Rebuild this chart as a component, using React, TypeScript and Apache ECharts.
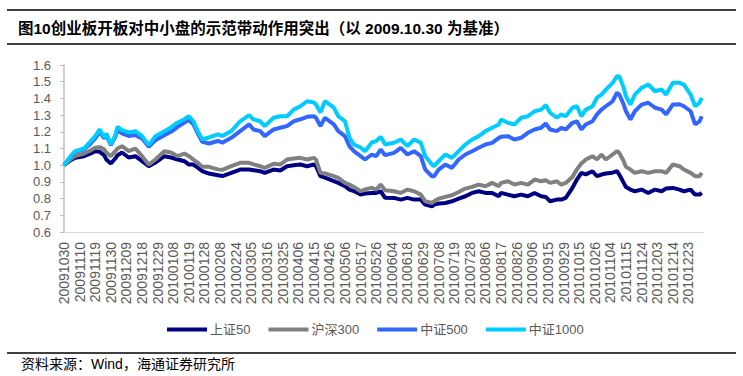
import React, { useEffect, useRef } from "react";
import * as echarts from "echarts";

const xTickLabels = [
  "20091030", "20091110", "20091119", "20091130", "20091209", "20091218", "20091229",
  "20100108", "20100119", "20100128", "20100208", "20100224", "20100305", "20100316",
  "20100325", "20100406", "20100415", "20100426", "20100506", "20100517", "20100526",
  "20100604", "20100618", "20100629", "20100708", "20100719", "20100728", "20100806",
  "20100817", "20100826", "20100906", "20100915", "20100929", "20101015", "20101026",
  "20101104", "20101115", "20101124", "20101203", "20101214", "20101223",
];

// trading-day index of each sampled point (0 = 20091030, 286 = 20101231)
const sampleIdx = [
  0, 3, 5, 9, 12, 14, 16, 18, 19, 21, 23, 24, 26, 29, 32, 35, 38, 41, 45, 48, 51, 54, 56, 58, 60,
  62, 65, 69, 71, 75, 79, 83, 85, 88, 90, 94, 97, 100, 103, 106, 109, 112, 113, 115, 117, 121, 123,
  126, 128, 130, 133, 135, 138, 140, 142, 144, 148, 151, 154, 157, 160, 162, 165, 166, 168, 171,
  174, 177, 180, 183, 186, 189, 192, 195, 196, 199, 202, 205, 208, 211, 214, 216, 218, 221, 223,
  225, 228, 230, 232, 234, 237, 239, 241, 243, 246, 248, 249, 251, 252, 254, 256, 259, 262, 265,
  268, 270, 273, 276, 278, 281, 283, 285, 286,
];

const sz50 = [
  1.0, 1.03, 1.045, 1.054, 1.07, 1.084, 1.08, 1.06, 1.034, 1.01, 1.04, 1.06, 1.076, 1.046, 1.054,
  1.024, 0.994, 1.016, 1.054, 1.046, 1.034, 1.024, 1.004, 1.004, 0.985, 0.965, 0.95, 0.94, 0.935,
  0.954, 0.974, 0.974, 0.97, 0.964, 0.954, 0.974, 0.968, 0.994, 1.0, 1.004, 0.994, 1.004, 0.994,
  0.934, 0.925, 0.905, 0.894, 0.874, 0.854, 0.845, 0.824, 0.83, 0.834, 0.834, 0.844, 0.805, 0.804,
  0.794, 0.804, 0.794, 0.794, 0.764, 0.754, 0.764, 0.77, 0.774, 0.784, 0.8, 0.814, 0.834, 0.844,
  0.834, 0.834, 0.814, 0.834, 0.824, 0.814, 0.824, 0.814, 0.834, 0.814, 0.81, 0.784, 0.794, 0.794,
  0.804, 0.864, 0.914, 0.954, 0.945, 0.964, 0.934, 0.944, 0.95, 0.955, 0.964, 0.944, 0.894, 0.87,
  0.854, 0.844, 0.854, 0.834, 0.854, 0.844, 0.86, 0.864, 0.854, 0.844, 0.854, 0.824, 0.824, 0.834,
];

const hs300 = [
  1.0, 1.036, 1.055, 1.07, 1.09, 1.105, 1.108, 1.095, 1.076, 1.054, 1.084, 1.1, 1.114, 1.084, 1.1,
  1.054, 1.004, 1.034, 1.084, 1.076, 1.054, 1.07, 1.054, 1.034, 1.015, 0.99, 0.99, 0.975, 0.972,
  0.994, 1.014, 1.014, 1.005, 0.994, 0.984, 1.008, 1.004, 1.034, 1.04, 1.044, 1.034, 1.044, 1.034,
  0.954, 0.95, 0.935, 0.924, 0.894, 0.884, 0.87, 0.844, 0.855, 0.864, 0.854, 0.884, 0.85, 0.844,
  0.834, 0.854, 0.844, 0.824, 0.784, 0.774, 0.784, 0.8, 0.81, 0.82, 0.84, 0.86, 0.87, 0.884, 0.874,
  0.894, 0.874, 0.894, 0.904, 0.884, 0.894, 0.884, 0.914, 0.904, 0.91, 0.894, 0.904, 0.884, 0.894,
  0.93, 0.975, 1.01, 1.034, 1.054, 1.034, 1.064, 1.034, 1.064, 1.084, 1.074, 1.024, 0.99, 0.974,
  0.954, 0.964, 0.954, 0.964, 0.964, 0.954, 1.004, 0.994, 0.974, 0.954, 0.934, 0.934, 0.954,
];

const zz500 = [
  1.0, 1.05, 1.08, 1.095, 1.13, 1.16, 1.2, 1.16, 1.18, 1.12, 1.17, 1.21, 1.19, 1.175, 1.18, 1.16,
  1.11, 1.15, 1.18, 1.2, 1.23, 1.255, 1.27, 1.245, 1.19, 1.14, 1.13, 1.145, 1.135, 1.164, 1.204,
  1.244, 1.214, 1.204, 1.174, 1.214, 1.224, 1.234, 1.263, 1.275, 1.29, 1.293, 1.284, 1.234, 1.284,
  1.244, 1.204, 1.174, 1.114, 1.084, 1.054, 1.034, 1.064, 1.054, 1.094, 1.06, 1.074, 1.104, 1.064,
  1.084, 1.054, 0.974, 0.934, 0.934, 0.974, 1.004, 0.984, 1.034, 1.064, 1.084, 1.104, 1.124, 1.134,
  1.164, 1.17, 1.174, 1.154, 1.164, 1.194, 1.214, 1.224, 1.25, 1.214, 1.204, 1.224, 1.214, 1.254,
  1.263, 1.214, 1.244, 1.263, 1.304, 1.333, 1.353, 1.383, 1.434, 1.423, 1.363, 1.323, 1.274, 1.323,
  1.363, 1.374, 1.344, 1.333, 1.304, 1.363, 1.365, 1.353, 1.323, 1.244, 1.263, 1.293,
];

const zz1000 = [
  1.0, 1.054, 1.084, 1.1, 1.144, 1.174, 1.214, 1.166, 1.19, 1.124, 1.18, 1.23, 1.21, 1.196, 1.204,
  1.174, 1.12, 1.174, 1.204, 1.226, 1.256, 1.275, 1.293, 1.263, 1.204, 1.154, 1.166, 1.184, 1.175,
  1.204, 1.263, 1.3, 1.274, 1.263, 1.234, 1.284, 1.293, 1.293, 1.333, 1.353, 1.383, 1.375, 1.363,
  1.315, 1.383, 1.345, 1.293, 1.263, 1.166, 1.124, 1.106, 1.084, 1.136, 1.144, 1.17, 1.124, 1.134,
  1.154, 1.114, 1.154, 1.134, 1.054, 1.004, 0.994, 1.024, 1.064, 1.044, 1.084, 1.124, 1.154, 1.174,
  1.204, 1.224, 1.244, 1.274, 1.254, 1.244, 1.284, 1.293, 1.323, 1.333, 1.36, 1.314, 1.284, 1.304,
  1.293, 1.344, 1.353, 1.293, 1.333, 1.353, 1.404, 1.423, 1.453, 1.493, 1.533, 1.533, 1.463, 1.413,
  1.363, 1.423, 1.463, 1.483, 1.443, 1.453, 1.423, 1.493, 1.493, 1.483, 1.423, 1.353, 1.374, 1.404,
];

const seriesNames = ["上证50", "沪深300", "中证500", "中证1000"];
const seriesValues = [sz50, hs300, zz500, zz1000];
const seriesColors = ["#000080", "#808080", "#3366FF", "#00CCFF"];

const titleText = "图10创业板开板对中小盘的示范带动作用突出（以 2009.10.30 为基准）";
const sourceText = "资料来源：Wind，海通证券研究所";

const FONT = '"Liberation Sans", Arial, "Noto Sans CJK SC", sans-serif';

export default function App() {
  const ref = useRef<HTMLDivElement>(null);

  useEffect(() => {
    if (!ref.current) return;
    const chart = echarts.init(ref.current, null, { renderer: "svg" });
    const option: any = {
      animation: false,
      backgroundColor: "#ffffff",
      textStyle: { fontFamily: FONT },
      grid: { left: 64, top: 65, width: 640, height: 167, containLabel: false },
      legend: {
        data: seriesNames,
        left: 162,
        top: 318,
        icon: "rect",
        itemWidth: 40,
        itemHeight: 4,
        itemGap: 18,
        textStyle: { fontSize: 13, color: "#595959", fontFamily: FONT, padding: [0, 0, 0, -2] },
      },
      xAxis: {
        type: "value",
        min: 0,
        max: 287,
        interval: 7,
        axisLine: { show: true, lineStyle: { color: "#D9D9D9", width: 1 } },
        axisTick: { show: false },
        splitLine: { show: false },
        axisLabel: {
          rotate: 90,
          margin: 10,
          fontSize: 14,
          color: "#595959",
          fontFamily: FONT,
          showMaxLabel: false,
          formatter: (v: number) => {
            const k = Math.round(v / 7);
            return Math.abs(v - k * 7) < 1e-6 && k < xTickLabels.length ? xTickLabels[k] : "";
          },
        },
      },
      yAxis: {
        type: "value",
        min: 0.6,
        max: 1.6,
        interval: 0.1,
        axisLine: { show: true, lineStyle: { color: "#BFBFBF", width: 1.5 } },
        axisTick: { show: true, length: 4, lineStyle: { color: "#BFBFBF", width: 1 } },
        splitLine: { show: false },
        axisLabel: {
          margin: 13,
          fontSize: 13,
          color: "#595959",
          fontFamily: FONT,
          formatter: (v: number) => v.toFixed(1),
        },
      },
      series: seriesNames.map((name, i) => ({
        name,
        type: "line",
        data: sampleIdx.map((x, j) => [x, seriesValues[i][j]]),
        showSymbol: false,
        symbol: "none",
        lineStyle: { color: seriesColors[i], width: 4 },
        itemStyle: { color: seriesColors[i] },
        z: 2 + i,
      })),
      graphic: [
        { type: "line", shape: { x1: 7, y1: 10, x2: 736, y2: 10 }, style: { stroke: "#000", lineWidth: 1.5 } },
        {
          type: "text",
          x: 18,
          y: 28,
          style: {
            text: titleText,
            font: 'bold 15.5px "Liberation Sans", Arial, "Noto Sans CJK SC", sans-serif',
            fill: "#000",
            textVerticalAlign: "middle",
          },
        },
        { type: "line", shape: { x1: 7, y1: 44, x2: 736, y2: 44 }, style: { stroke: "#000", lineWidth: 1.5 } },
        { type: "line", shape: { x1: 7, y1: 353, x2: 736, y2: 353 }, style: { stroke: "#000", lineWidth: 1.5 } },
        {
          type: "text",
          x: 21,
          y: 364,
          style: {
            text: sourceText,
            font: '14px "Liberation Sans", Arial, "Noto Sans CJK SC", sans-serif',
            fill: "#000",
            textVerticalAlign: "middle",
          },
        },
      ],
    };
    chart.setOption(option);
    return () => chart.dispose();
  }, []);

  return (
    <div
      ref={ref}
      style={{ position: "fixed", left: 0, top: 0, width: 743, height: 376, background: "#fff" }}
    />
  );
}
